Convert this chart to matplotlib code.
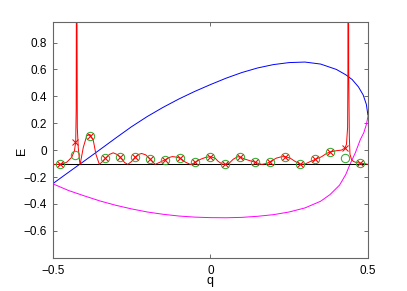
import numpy as np
import matplotlib
matplotlib.use("Agg")
import matplotlib.pyplot as plt

plt.rcParams['font.family'] = ['Liberation Sans', 'DejaVu Sans']

# upper branch (blue)
blue_q = [-0.5, -0.45, -0.4, -0.35, -0.3, -0.25, -0.2, -0.15, -0.1, -0.05, 0.0,
          0.05, 0.1, 0.15, 0.2, 0.25, 0.3, 0.35, 0.4, 0.43, 0.45, 0.47, 0.485, 0.495, 0.5]
blue_E = [-0.25, -0.165, -0.081, 0.004, 0.09, 0.174, 0.25, 0.318, 0.38, 0.436, 0.487,
          0.535, 0.577, 0.611, 0.636, 0.651, 0.655, 0.64, 0.6, 0.56, 0.525, 0.47, 0.41, 0.34, 0.26]

# lower branch (magenta)
mag_q = [-0.5, -0.45, -0.4, -0.35, -0.3, -0.25, -0.2, -0.15, -0.1, -0.05, 0.0, 0.05,
         0.1, 0.15, 0.2, 0.25, 0.3, 0.35, 0.38, 0.41, 0.43, 0.443, 0.46, 0.476, 0.487, 0.495, 0.5]
mag_E = [-0.25, -0.30, -0.34, -0.378, -0.41, -0.437, -0.46, -0.477, -0.49, -0.498, -0.502, -0.503,
         -0.5, -0.492, -0.48, -0.46, -0.43, -0.38, -0.33, -0.26, -0.18, -0.106, -0.02, 0.079, 0.13, 0.19, 0.25]

# red curve with two poles
red_q = [-0.5, -0.476, -0.456, -0.44, -0.431, -0.427, -0.4255, -0.425, -0.4245,
         -0.4235, -0.423, -0.422, -0.419, -0.415, -0.413, -0.403, -0.392, -0.382, -0.371, -0.363, -0.352,
         -0.342, -0.333, -0.32, -0.308, -0.296, -0.286, -0.272, -0.262,
         -0.25, -0.238, -0.228, -0.218, -0.205, -0.19, -0.182, -0.175,
         -0.16, -0.143, -0.13, -0.12, -0.108, -0.095, -0.08, -0.064,
         -0.055, -0.048, -0.033, -0.015, 0.0, 0.015, 0.025, 0.038, 0.048,
         0.059, 0.073, 0.087, 0.095, 0.11, 0.126, 0.143, 0.163,
         0.179, 0.19, 0.21, 0.226, 0.238, 0.253, 0.269, 0.286,
         0.3, 0.316, 0.333, 0.353, 0.369, 0.381, 0.401, 0.416, 0.427, 0.432, 0.4355, 0.4365, 0.437,
         0.438, 0.439, 0.441, 0.443, 0.448, 0.454, 0.464, 0.476, 0.491, 0.5]
red_E = [-0.106, -0.106, -0.091, -0.054, -0.005, 0.064, 0.3, 1.0, 3.0,
         3.0, 1.0, 0.168, 0.02, -0.079, -0.106, 0.02, 0.107, 0.117, 0.07, -0.03, -0.106,
         -0.085, -0.062, -0.032, -0.02, -0.032, -0.052, -0.092, -0.106,
         -0.085, -0.052, -0.032, -0.025, -0.035, -0.069, -0.09, -0.106,
         -0.09, -0.071, -0.054, -0.048, -0.052, -0.061, -0.088, -0.106,
         -0.1, -0.09, -0.07, -0.054, -0.049, -0.059, -0.084, -0.104, -0.106,
         -0.099, -0.067, -0.049, -0.052, -0.067, -0.079, -0.091, -0.106,
         -0.099, -0.085, -0.059, -0.049, -0.049, -0.059, -0.084, -0.105,
         -0.104, -0.086, -0.069, -0.049, -0.024, -0.013, -0.004, 0.0, 0.015, 0.044, 0.168, 0.6, 3.0,
         3.0, 0.6, 0.1, -0.03, -0.07, -0.084, -0.093, -0.097, -0.101, -0.106]

# sampled points
n_q = [n / 21 for n in range(-10, 11)]
x_E = [-0.106, 0.064, 0.107, -0.062, -0.052, -0.052, -0.069, -0.071, -0.061, -0.09, -0.049,
       -0.106, -0.052, -0.091, -0.085, -0.049, -0.105, -0.069, -0.013, 0.015, -0.099]
o_E = [-0.106, -0.037, 0.107, -0.055, -0.052, -0.052, -0.069, -0.071, -0.061, -0.09, -0.049,
       -0.106, -0.052, -0.091, -0.085, -0.049, -0.105, -0.069, -0.013, -0.058, -0.099]

E0 = -0.106

fig = plt.figure(figsize=(4.07, 2.91), dpi=100)
ax = fig.add_axes([0.1295, 0.1144, 0.7745, 0.811])

ax.plot(blue_q, blue_E, color='#0000ff', lw=0.7)
ax.plot(mag_q, mag_E, color='#ff00ff', lw=0.7)
ax.plot([-0.5, 0.5], [E0, E0], color='k', lw=0.75)
ax.plot(red_q, red_E, color='#ff0000', lw=0.7)
ax.plot(n_q, o_E, 'o', mfc='none', mec='#33aa33', ms=6, mew=0.75)
ax.plot(n_q, x_E, 'x', color='#ff0000', ms=4, mew=0.75)

ax.set_xlim(-0.5, 0.5)
ax.set_ylim(-0.8, 0.955)
ax.set_xticks([-0.5, 0, 0.5])
ax.set_xticklabels(['\u22120.5', '0', '0.5'])
ax.set_yticks([-0.6, -0.4, -0.2, 0, 0.2, 0.4, 0.6, 0.8])
ax.set_yticklabels(['\u22120.6', '\u22120.4', '\u22120.2', '0', '0.2', '0.4', '0.6', '0.8'])
ax.tick_params(direction='in', length=3, width=0.6, color='#555555', top=True, right=True,
               labelsize=8.5)
ax.tick_params(axis='y', pad=4)
ax.tick_params(axis='x', pad=5)
for s in ax.spines.values():
    s.set_color('#666666')
    s.set_linewidth(0.8)

ax.set_xlabel('q', fontsize=9)
ax.xaxis.set_label_coords(0.5, -0.075)
ax.set_ylabel('E', fontsize=9, va='center')
ax.yaxis.set_label_coords(-0.097, 0.452)

fig.savefig('out.png', dpi=100)
